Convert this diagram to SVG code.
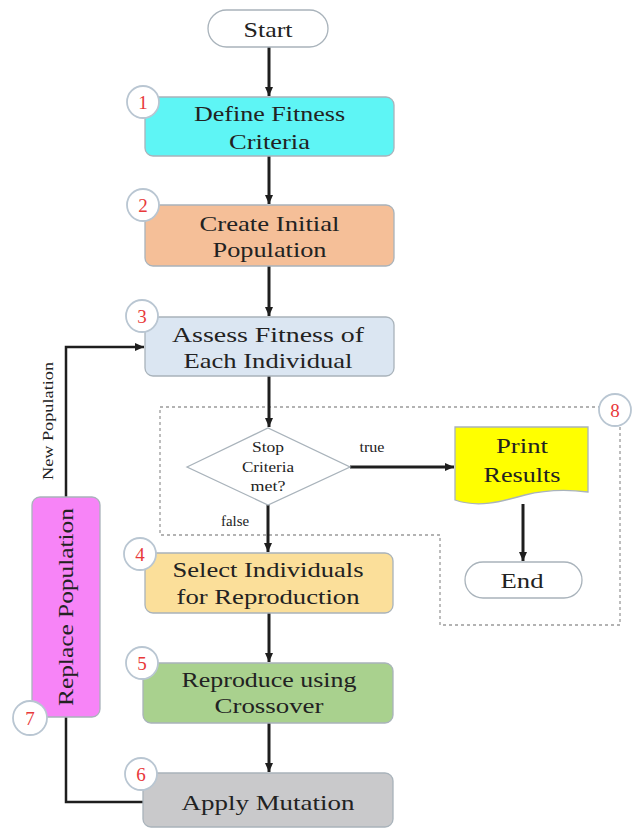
<svg xmlns="http://www.w3.org/2000/svg" width="632" height="831" viewBox="0 0 632 831">
<defs>
<style>
.box{stroke:#a9b3bb;stroke-width:1.3}
.t{font-family:"Liberation Serif","Times New Roman",serif;font-size:22px;fill:#222;text-anchor:middle}
.s{font-family:"Liberation Serif","Times New Roman",serif;font-size:14px;fill:#222;text-anchor:middle}
.num{font-family:"Liberation Serif","Times New Roman",serif;font-size:19px;fill:#e8393a;text-anchor:middle}
.nc{fill:#fff;stroke:#b9c6d2;stroke-width:1.8}
.c{fill:none;stroke:#1e1e1e;stroke-width:3}
.c2{fill:none;stroke:#1e1e1e;stroke-width:2.5}
</style>
<marker id="ah" markerWidth="10" markerHeight="10" refX="9" refY="5" orient="auto" markerUnits="userSpaceOnUse">
<path d="M0,1 L9,5 L0,9 Z" fill="#1e1e1e"/>
</marker>
</defs>
<rect width="632" height="831" fill="#fff"/>

<g id="group8">
<path d="M160,407 H620 V625 H440 V535 H160 Z" fill="none" stroke="#9a9a9a" stroke-width="1.3" stroke-dasharray="3,3"/>
</g>

<g id="connectors">
<line class="c" x1="269" y1="47" x2="269" y2="96" marker-end="url(#ah)"/>
<line class="c" x1="269" y1="156" x2="269" y2="204" marker-end="url(#ah)"/>
<line class="c" x1="269" y1="266" x2="269" y2="316" marker-end="url(#ah)"/>
<line class="c" x1="269" y1="376" x2="269" y2="427" marker-end="url(#ah)"/>
<line class="c" x1="350" y1="467" x2="454" y2="467" marker-end="url(#ah)"/>
<line class="c" x1="268" y1="505" x2="268" y2="552" marker-end="url(#ah)"/>
<line class="c" x1="269" y1="613" x2="269" y2="662" marker-end="url(#ah)"/>
<line class="c" x1="269" y1="723" x2="269" y2="772" marker-end="url(#ah)"/>
<line class="c" x1="523" y1="504" x2="523" y2="561" marker-end="url(#ah)"/>
<polyline class="c2" points="66,497 66,347 144,347" marker-end="url(#ah)"/>
<polyline class="c2" points="66,717 66,802 143,802"/>
<text class="s" x="372" y="452" font-size="12.5" textLength="25" lengthAdjust="spacingAndGlyphs">true</text>
<text class="s" x="235" y="526" font-size="12.5" textLength="28" lengthAdjust="spacingAndGlyphs">false</text>
<text class="s" font-size="15" transform="translate(53,421) rotate(-90)" textLength="118" lengthAdjust="spacingAndGlyphs">New Population</text>
</g>

<g id="start">
<rect x="208" y="10" width="120" height="37" rx="18.5" fill="#fff" stroke="#a9b3bb" stroke-width="1.3"/>
<text class="t" x="268" y="37" textLength="49" lengthAdjust="spacingAndGlyphs">Start</text>
</g>

<g id="step1">
<rect class="box" x="145" y="97" width="249" height="59" rx="8" fill="#5ef5f5"/>
<text class="t" x="269.5" y="121" textLength="151" lengthAdjust="spacingAndGlyphs">Define Fitness</text>
<text class="t" x="269.5" y="149" textLength="81" lengthAdjust="spacingAndGlyphs">Criteria</text>
<circle class="nc" cx="143" cy="102" r="16"/>
<text class="num" x="143" y="109">1</text>
</g>

<g id="step2">
<rect class="box" x="145" y="205" width="249" height="61" rx="8" fill="#f5bf98"/>
<text class="t" x="269.5" y="231" textLength="140" lengthAdjust="spacingAndGlyphs">Create Initial</text>
<text class="t" x="269.5" y="257" textLength="114" lengthAdjust="spacingAndGlyphs">Population</text>
<circle class="nc" cx="143" cy="205" r="16"/>
<text class="num" x="143" y="212">2</text>
</g>

<g id="step3">
<rect class="box" x="145" y="317" width="249" height="59" rx="8" fill="#dbe6f2"/>
<text class="t" x="268" y="342" textLength="192" lengthAdjust="spacingAndGlyphs">Assess Fitness of</text>
<text class="t" x="268" y="368" textLength="169" lengthAdjust="spacingAndGlyphs">Each Individual</text>
<circle class="nc" cx="142" cy="316" r="16"/>
<text class="num" x="142" y="323">3</text>
</g>

<g id="decision">
<polygon points="187,467 268,428 350,467 268,505" fill="#fff" stroke="#a9b3bb" stroke-width="1.3"/>
<text class="s" x="268" y="452" textLength="32" lengthAdjust="spacingAndGlyphs">Stop</text>
<text class="s" x="268" y="472" textLength="52" lengthAdjust="spacingAndGlyphs">Criteria</text>
<text class="s" x="268" y="491" textLength="35" lengthAdjust="spacingAndGlyphs">met?</text>
</g>

<g id="print">
<path d="M455,427 H588 V492 C565,489 545,490 525,495 C500,502 478,508 455,500 Z" fill="#ffff00" stroke="#a9b3bb" stroke-width="1.3"/>
<text class="t" x="522" y="453" textLength="52" lengthAdjust="spacingAndGlyphs">Print</text>
<text class="t" x="522" y="482" textLength="77" lengthAdjust="spacingAndGlyphs">Results</text>
</g>

<g id="end">
<rect x="465" y="562" width="117" height="36" rx="18" fill="#fff" stroke="#a9b3bb" stroke-width="1.3"/>
<text class="t" x="522" y="588" textLength="43" lengthAdjust="spacingAndGlyphs">End</text>
</g>

<g id="label8">
<circle class="nc" cx="615" cy="410" r="16"/>
<text class="num" x="615" y="417">8</text>
</g>

<g id="step4">
<rect class="box" x="145" y="553" width="248" height="60" rx="8" fill="#fbdf9a"/>
<text class="t" x="268" y="577" textLength="191" lengthAdjust="spacingAndGlyphs">Select Individuals</text>
<text class="t" x="268" y="604" textLength="183" lengthAdjust="spacingAndGlyphs">for Reproduction</text>
<circle class="nc" cx="140" cy="554" r="16"/>
<text class="num" x="140" y="561">4</text>
</g>

<g id="step5">
<rect class="box" x="143" y="663" width="250" height="60" rx="8" fill="#a9d18e"/>
<text class="t" x="269" y="687" textLength="175" lengthAdjust="spacingAndGlyphs">Reproduce using</text>
<text class="t" x="269" y="713" textLength="109" lengthAdjust="spacingAndGlyphs">Crossover</text>
<circle class="nc" cx="142" cy="663" r="16"/>
<text class="num" x="142" y="670">5</text>
</g>

<g id="step6">
<rect class="box" x="143" y="773" width="250" height="54" rx="8" fill="#c9c9cb"/>
<text class="t" x="268" y="810" textLength="173" lengthAdjust="spacingAndGlyphs">Apply Mutation</text>
<circle class="nc" cx="141" cy="774" r="16"/>
<text class="num" x="141" y="781">6</text>
</g>

<g id="step7">
<rect class="box" x="32" y="497" width="68" height="220" rx="8" fill="#f784f7"/>
<text class="t" transform="translate(73,607) rotate(-90)" textLength="198" lengthAdjust="spacingAndGlyphs">Replace Population</text>
<circle class="nc" cx="30" cy="718" r="17"/>
<text class="num" x="30" y="725">7</text>
</g>
</svg>
